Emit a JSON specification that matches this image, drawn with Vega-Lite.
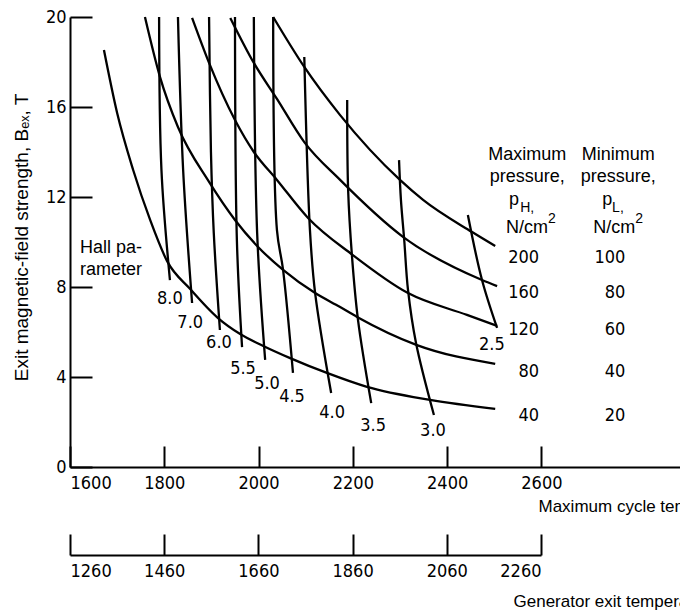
{
  "$schema": "https://vega.github.io/schema/vega-lite/v6.json",
  "autosize": {"type": "none"},
  "padding": {"left": 70, "top": 17, "right": 0, "bottom": 144},
  "width": 610,
  "height": 450,
  "background": "white",
  "config": {
    "view": {"stroke": null},
    "font": "Liberation Sans",
    "axis": {
      "domainColor": "black", "domainWidth": 2, "tickColor": "black", "tickWidth": 2,
      "labelColor": "black", "titleColor": "black", "grid": false,
      "labelFont": "Liberation Sans Narrow, DejaVu Sans Condensed, Liberation Sans",
      "labelFontSize": 18, "titleFont": "Liberation Sans", "titleFontSize": 17, "titleFontWeight": "normal"
    }
  },
  "datasets": {
    "pressure": [
      {"p": "40", "T": 1672, "B": 18.53}, {"p": "40", "T": 1700, "B": 15.73}, {"p": "40", "T": 1734, "B": 13.2},
      {"p": "40", "T": 1770, "B": 10.98}, {"p": "40", "T": 1806, "B": 9.15}, {"p": "40", "T": 1855, "B": 7.91},
      {"p": "40", "T": 1914, "B": 6.62}, {"p": "40", "T": 1961, "B": 5.91}, {"p": "40", "T": 2010, "B": 5.38},
      {"p": "40", "T": 2067, "B": 4.84}, {"p": "40", "T": 2145, "B": 4.18}, {"p": "40", "T": 2230, "B": 3.56},
      {"p": "40", "T": 2364, "B": 2.98}, {"p": "40", "T": 2502, "B": 2.58},
      {"p": "80", "T": 1759, "B": 20}, {"p": "80", "T": 1791, "B": 17.33}, {"p": "80", "T": 1829, "B": 15.11},
      {"p": "80", "T": 1895, "B": 12.67}, {"p": "80", "T": 1950, "B": 10.98}, {"p": "80", "T": 1999, "B": 9.78},
      {"p": "80", "T": 2052, "B": 8.76}, {"p": "80", "T": 2120, "B": 7.73}, {"p": "80", "T": 2173, "B": 7.11},
      {"p": "80", "T": 2209, "B": 6.67}, {"p": "80", "T": 2336, "B": 5.42}, {"p": "80", "T": 2502, "B": 4.58},
      {"p": "120", "T": 1859, "B": 19.96}, {"p": "120", "T": 1895, "B": 17.96}, {"p": "120", "T": 1950, "B": 15.42},
      {"p": "120", "T": 1990, "B": 14.0}, {"p": "120", "T": 2039, "B": 12.76}, {"p": "120", "T": 2105, "B": 11.07},
      {"p": "120", "T": 2200, "B": 9.42}, {"p": "120", "T": 2317, "B": 7.73}, {"p": "120", "T": 2442, "B": 6.76},
      {"p": "120", "T": 2506, "B": 6.27},
      {"p": "160", "T": 1940, "B": 19.96}, {"p": "160", "T": 1990, "B": 17.96}, {"p": "160", "T": 2039, "B": 16.36},
      {"p": "160", "T": 2097, "B": 14.44}, {"p": "160", "T": 2173, "B": 12.76}, {"p": "160", "T": 2307, "B": 10.22},
      {"p": "160", "T": 2474, "B": 8.31}, {"p": "160", "T": 2506, "B": 8.04},
      {"p": "200", "T": 2031, "B": 20}, {"p": "200", "T": 2097, "B": 17.78}, {"p": "200", "T": 2173, "B": 15.64},
      {"p": "200", "T": 2300, "B": 12.76}, {"p": "200", "T": 2349, "B": 11.87}, {"p": "200", "T": 2453, "B": 10.44},
      {"p": "200", "T": 2502, "B": 9.82}
    ],
    "hall": [
      {"h": "8.0", "T": 1789, "B": 20}, {"h": "8.0", "T": 1794, "B": 13.2}, {"h": "8.0", "T": 1812, "B": 8.31},
      {"h": "7.0", "T": 1829, "B": 20}, {"h": "7.0", "T": 1840, "B": 13.2}, {"h": "7.0", "T": 1859, "B": 7.29},
      {"h": "6.0", "T": 1895, "B": 20}, {"h": "6.0", "T": 1899, "B": 14}, {"h": "6.0", "T": 1905, "B": 10.4}, {"h": "6.0", "T": 1918, "B": 6.09},
      {"h": "5.5", "T": 1950, "B": 20}, {"h": "5.5", "T": 1954, "B": 10.09}, {"h": "5.5", "T": 1965, "B": 5.33},
      {"h": "5.0", "T": 1990, "B": 20}, {"h": "5.0", "T": 1997, "B": 10.4}, {"h": "5.0", "T": 2014, "B": 4.76},
      {"h": "4.5", "T": 2031, "B": 20}, {"h": "4.5", "T": 2039, "B": 10.53}, {"h": "4.5", "T": 2052, "B": 8.76}, {"h": "4.5", "T": 2073, "B": 4.18},
      {"h": "4.0", "T": 2097, "B": 18.22}, {"h": "4.0", "T": 2109, "B": 10.53}, {"h": "4.0", "T": 2120, "B": 7.73}, {"h": "4.0", "T": 2154, "B": 3.29},
      {"h": "3.5", "T": 2188, "B": 16.31}, {"h": "3.5", "T": 2190, "B": 12.31}, {"h": "3.5", "T": 2198, "B": 9.42}, {"h": "3.5", "T": 2211, "B": 6.53}, {"h": "3.5", "T": 2239, "B": 2.84},
      {"h": "3.0", "T": 2298, "B": 13.64}, {"h": "3.0", "T": 2302, "B": 11.87}, {"h": "3.0", "T": 2309, "B": 10.09}, {"h": "3.0", "T": 2317, "B": 7.87}, {"h": "3.0", "T": 2334, "B": 5.51}, {"h": "3.0", "T": 2372, "B": 2.31},
      {"h": "2.5", "T": 2444, "B": 11.2}, {"h": "2.5", "T": 2474, "B": 8.31}, {"h": "2.5", "T": 2506, "B": 6.18}
    ],
    "labels": [
      {"kind": "hall", "text": "8.0", "T": 1812, "B": 7.47},
      {"kind": "hall", "text": "7.0", "T": 1855, "B": 6.4},
      {"kind": "hall", "text": "6.0", "T": 1916, "B": 5.51},
      {"kind": "hall", "text": "5.5", "T": 1967, "B": 4.36},
      {"kind": "hall", "text": "5.0", "T": 2018, "B": 3.69},
      {"kind": "hall", "text": "4.5", "T": 2071, "B": 3.11},
      {"kind": "hall", "text": "4.0", "T": 2156, "B": 2.4},
      {"kind": "hall", "text": "3.5", "T": 2243, "B": 1.82},
      {"kind": "hall", "text": "3.0", "T": 2370, "B": 1.6},
      {"kind": "hall", "text": "2.5", "T": 2495, "B": 5.42},
      {"kind": "c", "text": "Maximum", "T": 2570, "B": 13.64},
      {"kind": "c", "text": "pressure,", "T": 2570, "B": 12.67},
      {"kind": "c", "text": "Minimum", "T": 2763, "B": 13.64},
      {"kind": "c", "text": "pressure,", "T": 2763, "B": 12.67},
      {"kind": "l", "text": "p", "T": 2531, "B": 11.64},
      {"kind": "l", "text": "p", "T": 2729, "B": 11.64},
      {"kind": "l", "text": "Hall pa-", "T": 1621, "B": 9.51},
      {"kind": "l", "text": "rameter", "T": 1621, "B": 8.53},
      {"kind": "s", "text": "H,", "T": 2555, "B": 11.33},
      {"kind": "s", "text": "L,", "T": 2750, "B": 11.33},
      {"kind": "s", "text": "2", "T": 2614, "B": 10.84},
      {"kind": "s", "text": "2", "T": 2799, "B": 10.84},
      {"kind": "t", "text": "N/cm", "T": 2614, "B": 10.4},
      {"kind": "t", "text": "N/cm", "T": 2799, "B": 10.4},
      {"kind": "r", "text": "200", "T": 2595, "B": 9.07},
      {"kind": "r", "text": "160", "T": 2595, "B": 7.51},
      {"kind": "r", "text": "120", "T": 2595, "B": 5.87},
      {"kind": "r", "text": "80", "T": 2595, "B": 4.0},
      {"kind": "r", "text": "40", "T": 2595, "B": 2.04},
      {"kind": "r", "text": "100", "T": 2778, "B": 9.07},
      {"kind": "r", "text": "80", "T": 2778, "B": 7.51},
      {"kind": "r", "text": "60", "T": 2778, "B": 5.87},
      {"kind": "r", "text": "40", "T": 2778, "B": 4.0},
      {"kind": "r", "text": "20", "T": 2778, "B": 2.04}
    ],
    "generator": [{"g": 1260}, {"g": 2260}]
  },
  "layer": [
    {
      "encoding": {
        "x": {"field": "T", "type": "quantitative", "scale": {"domain": [1600, 2894], "nice": false, "zero": false},
          "axis": {"values": [1600, 1800, 2000, 2200, 2400, 2600], "format": "d", "tickSize": -21, "labelPadding": 28,
            "title": "Maximum cycle temperature, K", "titleAlign": "left", "titleAnchor": "start", "titleX": 468, "titleY": 44, "titleBaseline": "alphabetic"}},
        "y": {"field": "B", "type": "quantitative", "scale": {"domain": [0, 20], "nice": false},
          "axis": {"values": [0, 4, 8, 12, 16, 20], "format": "d", "tickSize": -22, "labelPadding": 26,
            "title": "Exit magnetic-field strength, Bₑₓ, T", "titleFontSize": 19, "titleAngle": -90, "titleAlign": "center", "titleX": -43, "titleY": 220, "titleBaseline": "alphabetic"}}
      },
      "layer": [
        {
          "data": {"name": "pressure"},
          "mark": {"type": "line", "color": "black", "strokeWidth": 2.3, "interpolate": "monotone"},
          "encoding": {"detail": {"field": "p"}}
        },
        {
          "data": {"name": "hall"},
          "mark": {"type": "line", "color": "black", "strokeWidth": 2.3, "interpolate": "catmull-rom"},
          "encoding": {"detail": {"field": "h"}, "order": {"field": "B", "sort": "descending"}}
        },
        {
          "data": {"name": "labels"},
          "transform": [{"filter": "datum.kind == 'hall'"}],
          "mark": {"type": "text", "fontSize": 18, "font": "Liberation Sans Narrow, DejaVu Sans Condensed, Liberation Sans", "align": "center", "baseline": "middle", "color": "black"},
          "encoding": {"text": {"field": "text"}}
        },
        {
          "data": {"name": "labels"},
          "transform": [{"filter": "datum.kind == 'r'"}],
          "mark": {"type": "text", "fontSize": 18, "font": "Liberation Sans Narrow, DejaVu Sans Condensed, Liberation Sans", "align": "right", "baseline": "alphabetic", "color": "black"},
          "encoding": {"text": {"field": "text"}}
        },
        {
          "data": {"name": "labels"},
          "transform": [{"filter": "datum.kind == 'c'"}],
          "mark": {"type": "text", "fontSize": 18, "align": "center", "baseline": "alphabetic", "color": "black"},
          "encoding": {"text": {"field": "text"}}
        },
        {
          "data": {"name": "labels"},
          "transform": [{"filter": "datum.kind == 't'"}],
          "mark": {"type": "text", "fontSize": 18, "align": "right", "baseline": "alphabetic", "color": "black"},
          "encoding": {"text": {"field": "text"}}
        },
        {
          "data": {"name": "labels"},
          "transform": [{"filter": "datum.kind == 'l'"}],
          "mark": {"type": "text", "fontSize": 18, "align": "left", "baseline": "alphabetic", "color": "black"},
          "encoding": {"text": {"field": "text"}}
        },
        {
          "data": {"name": "labels"},
          "transform": [{"filter": "datum.kind == 's'"}],
          "mark": {"type": "text", "fontSize": 14, "align": "left", "baseline": "alphabetic", "color": "black"},
          "encoding": {"text": {"field": "text"}}
        }
      ]
    },
    {
      "data": {"name": "generator"},
      "mark": {"type": "point", "opacity": 0},
      "encoding": {
        "x": {"field": "g", "type": "quantitative", "scale": {"domain": [1260, 2260], "range": [0, 471], "nice": false, "zero": false},
          "axis": {"orient": "bottom", "offset": 88, "values": [1260, 1460, 1660, 1860, 2060, 2260], "format": "d", "tickSize": -21, "labelPadding": 28,
            "title": "Generator exit temperature, K", "titleAlign": "left", "titleAnchor": "start", "titleX": 443, "titleY": 51, "titleBaseline": "alphabetic"}}
      }
    }
  ],
  "resolve": {"scale": {"x": "independent"}, "axis": {"x": "independent"}}
}
